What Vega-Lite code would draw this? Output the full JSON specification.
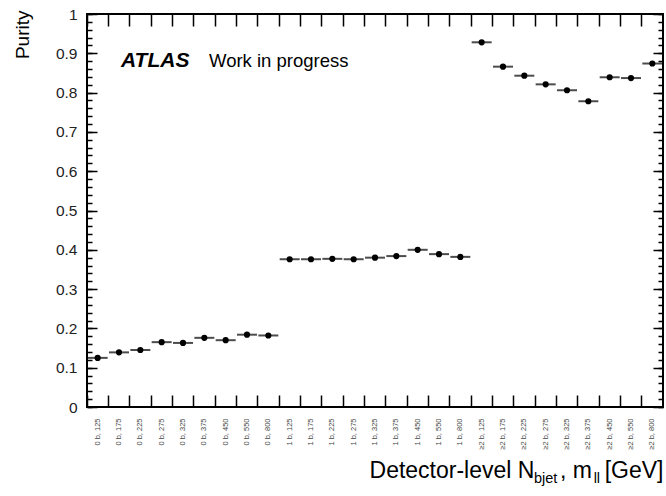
{
  "$schema": "https://vega.github.io/schema/vega-lite/v6.json",
  "width": 576,
  "height": 393,
  "autosize": {"type": "none"},
  "padding": {"left": 87, "top": 14, "right": 3, "bottom": 89},
  "config": {
    "font": "Liberation Sans",
    "view": {"stroke": "black", "strokeWidth": 2},
    "axis": {"grid": false, "domain": false, "ticks": false}
  },
  "data": {
    "values": [
      {"bin": "0 b, 125", "purity": 0.125},
      {"bin": "0 b, 175", "purity": 0.139},
      {"bin": "0 b, 225", "purity": 0.145},
      {"bin": "0 b, 275", "purity": 0.165},
      {"bin": "0 b, 325", "purity": 0.163},
      {"bin": "0 b, 375", "purity": 0.176},
      {"bin": "0 b, 450", "purity": 0.170},
      {"bin": "0 b, 550", "purity": 0.184},
      {"bin": "0 b, 800", "purity": 0.182},
      {"bin": "1 b, 125", "purity": 0.376},
      {"bin": "1 b, 175", "purity": 0.376},
      {"bin": "1 b, 225", "purity": 0.377},
      {"bin": "1 b, 275", "purity": 0.376},
      {"bin": "1 b, 325", "purity": 0.380},
      {"bin": "1 b, 375", "purity": 0.384},
      {"bin": "1 b, 450", "purity": 0.400},
      {"bin": "1 b, 550", "purity": 0.389},
      {"bin": "1 b, 800", "purity": 0.382},
      {"bin": "≥2 b, 125", "purity": 0.928},
      {"bin": "≥2 b, 175", "purity": 0.866},
      {"bin": "≥2 b, 225", "purity": 0.843},
      {"bin": "≥2 b, 275", "purity": 0.821},
      {"bin": "≥2 b, 325", "purity": 0.806},
      {"bin": "≥2 b, 375", "purity": 0.778},
      {"bin": "≥2 b, 450", "purity": 0.839},
      {"bin": "≥2 b, 550", "purity": 0.837},
      {"bin": "≥2 b, 800", "purity": 0.874}
    ]
  },
  "layer": [
    {
      "mark": {"type": "tick", "color": "black", "size": 20, "thickness": 2, "orient": "horizontal"},
      "encoding": {
        "x": {
          "field": "bin", "type": "nominal",
          "scale": {"domain": ["0 b, 125","0 b, 175","0 b, 225","0 b, 275","0 b, 325","0 b, 375","0 b, 450","0 b, 550","0 b, 800","1 b, 125","1 b, 175","1 b, 225","1 b, 275","1 b, 325","1 b, 375","1 b, 450","1 b, 550","1 b, 800","≥2 b, 125","≥2 b, 175","≥2 b, 225","≥2 b, 275","≥2 b, 325","≥2 b, 375","≥2 b, 450","≥2 b, 550","≥2 b, 800"], "paddingInner": 0, "paddingOuter": 0},
          "axis": {
            "orient": "bottom",
            "bandPosition": 0,
            "grid": true,
            "gridColor": "black",
            "gridWidth": 1.5,
            "gridOpacity": 1,
            "gridDash": [12, 369, 12, 100],
            "labelAngle": 270,
            "labelAlign": "right",
            "labelBaseline": "middle",
            "labelFontSize": 7.5,
            "labelColor": "#444",
            "labelPadding": 11,
            "labelOverlap": false,
            "title": "Detector-level N\u00a0\u00a0\u00a0\u00a0, m\u00a0 [GeV]",
            "titleFontSize": 23,
            "titleFontWeight": "normal",
            "titleColor": "black",
            "titleAnchor": "end",
            "titleAlign": "right",
            "titleBaseline": "alphabetic",
            "titleX": 576,
            "titleY": 70
          }
        },
        "y": {
          "field": "purity", "type": "quantitative",
          "scale": {"domain": [0, 1], "nice": false, "zero": true},
          "axis": {
            "orient": "left",
            "values": [0,0.1,0.2,0.3,0.4,0.5,0.6,0.7,0.8,0.9,1],
            "labelExpr": "format(datum.value, '.1~f')",
            "grid": true,
            "gridColor": "black",
            "gridWidth": 1.5,
            "gridOpacity": 1,
            "gridDash": [10, 556, 10, 100],
            "labelFontSize": 15.5,
            "labelColor": "#222",
            "labelPadding": 10,
            "labelFlush": false,
            "labelOverlap": false,
            "title": "Purity",
            "titleFontSize": 19,
            "titleFontWeight": "normal",
            "titleColor": "black",
            "titleAnchor": "end",
            "titleAngle": 270,
            "titleAlign": "right",
            "titleBaseline": "alphabetic",
            "titleX": -58.5,
            "titleY": -4
          }
        }
      }
    },
    {
      "mark": {"type": "circle", "color": "black", "opacity": 1, "size": 38},
      "encoding": {
        "x": {"field": "bin", "type": "nominal", "axis": null},
        "y": {"field": "purity", "type": "quantitative", "axis": null}
      }
    },
    {
      "data": {"values": [{"bin": "0 b, 175", "purity": 0.866, "label": "ATLAS"}]},
      "mark": {"type": "text", "align": "left", "baseline": "alphabetic", "fontSize": 21, "fontWeight": "bold", "fontStyle": "italic", "color": "black", "dx": 2},
      "encoding": {
        "x": {
          "field": "bin", "type": "nominal",
          "axis": {
            "orient": "bottom",
            "labels": false,
            "title": "bjet\u00a0\u00a0\u00a0\u00a0\u00a0\u00a0\u00a0\u00a0\u00a0ll",
            "titleFontSize": 14.5,
            "titleFontWeight": "normal",
            "titleColor": "black",
            "titleAnchor": "start",
            "titleAlign": "left",
            "titleBaseline": "alphabetic",
            "titleX": 446.5,
            "titleY": 75
          }
        },
        "y": {
          "field": "purity", "type": "quantitative",
          "axis": {
            "orient": "left",
            "values": [0,0.02,0.04,0.06,0.08,0.1,0.12,0.14,0.16,0.18,0.2,0.22,0.24,0.26,0.28,0.3,0.32,0.34,0.36,0.38,0.4,0.42,0.44,0.46,0.48,0.5,0.52,0.54,0.56,0.58,0.6,0.62,0.64,0.66,0.68,0.7,0.72,0.74,0.76,0.78,0.8,0.82,0.84,0.86,0.88,0.9,0.92,0.94,0.96,0.98,1],
            "labels": false,
            "grid": true,
            "gridColor": "black",
            "gridWidth": 1.5,
            "gridOpacity": 1,
            "gridDash": [5, 566, 5, 100],
            "title": null
          }
        },
        "text": {"field": "label"}
      }
    },
    {
      "data": {"values": [{"bin": "0 b, 175", "purity": 0.866, "label": "Work in progress"}]},
      "mark": {"type": "text", "align": "left", "baseline": "alphabetic", "fontSize": 18.5, "color": "black", "dx": 90},
      "encoding": {
        "x": {"field": "bin", "type": "nominal", "axis": null},
        "y": {"field": "purity", "type": "quantitative", "axis": null},
        "text": {"field": "label"}
      }
    }
  ],
  "resolve": {"axis": {"x": "independent", "y": "independent"}}
}
